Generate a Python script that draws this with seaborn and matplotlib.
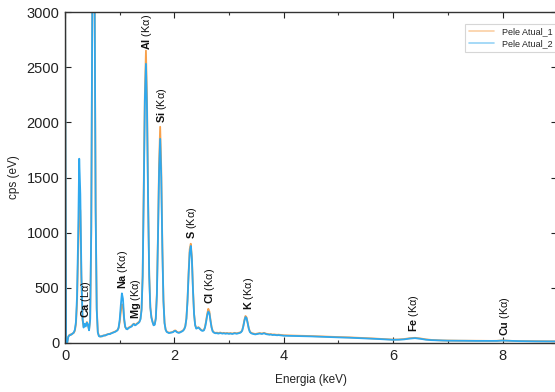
import numpy as np
import pandas as pd
import matplotlib
matplotlib.use("Agg")
import matplotlib.pyplot as plt
import seaborn as sns
from matplotlib.ticker import MultipleLocator

# ---------------- data ----------------
# energy grid (keV): 0.02 keV channels up to 4 keV, 0.1 keV beyond
energy_low = np.round(np.arange(0.0, 4.0, 0.02), 2)
energy_high = np.round(np.arange(4.0, 9.01, 0.1), 2)
energia = np.concatenate([energy_low, energy_high])

pele_atual_1 = [
    3500, 0, 0, 60, 72, 78, 76, 88, 92, 110,
    170, 360, 800, 1250, 1200, 560, 210, 150, 170, 160,
    190, 160, 120, 220, 1000, 3150, 3500, 3350, 1250, 320,
    100, 65, 60, 58, 64, 68, 66, 72, 76, 80,
    80, 84, 88, 92, 97, 100, 105, 112, 118, 135,
    190, 280, 350, 340, 210, 145, 130, 128, 138, 145,
    150, 155, 168, 175, 165, 170, 178, 185, 195, 220,
    310, 620, 1400, 2250, 2650, 2200, 1300, 620, 330, 235,
    195, 165, 170, 225, 450, 980, 1620, 1960, 1580, 880,
    390, 185, 122, 104, 98, 93, 95, 97, 99, 103,
    112, 114, 104, 98, 95, 98, 104, 108, 115, 128,
    155, 225, 390, 640, 850, 900, 780, 490, 265, 165,
    135, 138, 143, 135, 124, 116, 114, 118, 145, 200,
    265, 310, 285, 210, 145, 110, 98, 93, 92, 94,
    90, 92, 95, 91, 89, 92, 90, 88, 91, 89,
    87, 90, 88, 86, 89, 92, 90, 88, 91, 94,
    96, 102, 115, 155, 210, 245, 232, 185, 135, 104,
    94, 89, 86, 84, 82, 84, 86, 88, 90, 88,
    86, 89, 92, 88, 84, 82, 80, 79, 81, 78,
    76, 78, 77, 75, 74, 76, 75, 73, 74, 72,
    70, 68, 67, 66, 65, 63, 61, 59, 57, 56,
    54, 53, 51, 49, 47, 45, 42, 39, 36, 33,
    31, 32, 36, 43, 47, 41, 33, 28, 25, 23,
    22, 22, 21, 21, 20, 20, 20, 19, 19, 20,
    24, 21, 18, 18, 17, 17, 16, 16, 16, 15, 15,
]

pele_atual_2 = [
    3500, 0, 0, 55, 70, 72, 80, 85, 95, 120,
    190, 420, 950, 1670, 1350, 620, 230, 140, 175, 150,
    185, 165, 115, 210, 1050, 3200, 3500, 3300, 1200, 300,
    95, 62, 58, 62, 60, 66, 70, 68, 74, 78,
    82, 80, 86, 90, 95, 98, 102, 108, 115, 140,
    210, 340, 450, 400, 230, 150, 128, 124, 135, 140,
    145, 150, 165, 172, 160, 165, 175, 180, 190, 215,
    300, 600, 1350, 2200, 2530, 2100, 1250, 600, 320, 230,
    190, 160, 165, 220, 430, 950, 1550, 1850, 1500, 850,
    380, 180, 120, 100, 95, 90, 92, 94, 96, 100,
    108, 110, 100, 95, 92, 95, 100, 105, 112, 125,
    150, 220, 380, 620, 820, 880, 760, 480, 260, 160,
    130, 135, 140, 130, 120, 112, 110, 115, 140, 190,
    250, 285, 270, 200, 140, 105, 95, 90, 88, 90,
    85, 88, 90, 87, 85, 88, 86, 84, 87, 85,
    83, 86, 84, 82, 85, 88, 86, 84, 87, 90,
    92, 98, 112, 150, 200, 235, 225, 180, 130, 100,
    90, 85, 82, 80, 78, 80, 82, 84, 86, 84,
    82, 85, 88, 84, 80, 78, 76, 75, 77, 74,
    72, 74, 73, 71, 70, 72, 71, 69, 70, 68,
    66, 65, 64, 63, 62, 60, 58, 56, 54, 53,
    51, 50, 48, 46, 44, 42, 40, 37, 34, 31,
    29, 30, 33, 40, 44, 38, 30, 26, 24, 22,
    21, 21, 20, 20, 19, 19, 19, 18, 18, 19,
    22, 20, 17, 17, 16, 16, 15, 15, 15, 14, 14,
]

series_names = ["Pele Atual_1", "Pele Atual_2"]
series_colors = ["#F7A04B", "#2EA8EE"]

peak_elements = ["Ca", "Na", "Mg", "Al", "Si", "S", "Cl", "K", "Fe", "Cu"]
peak_lines = ["Lα", "Kα", "Kα", "Kα", "Kα", "Kα", "Kα", "Kα", "Kα", "Kα"]
peak_energy = [0.38, 1.06, 1.30, 1.50, 1.77, 2.33, 2.65, 3.37, 6.39, 8.04]
peak_label_y = [226, 490, 217, 2655, 1994, 942, 353, 300, 100, 63]

# ---------------- plot ----------------
sns.set_theme(style="ticks")
plt.rcParams["font.family"] = ["Liberation Sans", "DejaVu Sans"]
plt.rcParams["mathtext.fontset"] = "custom"
plt.rcParams["mathtext.rm"] = "Liberation Sans"
plt.rcParams["mathtext.bf"] = "Liberation Sans:bold"
plt.rcParams["mathtext.it"] = "Liberation Sans:italic"

df = pd.DataFrame({
    "Energia": np.concatenate([energia, energia]),
    "cps": np.concatenate([pele_atual_1, pele_atual_2]),
    "Amostra": [series_names[0]] * len(energia) + [series_names[1]] * len(energia),
})

fig = plt.figure(figsize=(5.55, 3.92), dpi=100)
ax = fig.add_axes([65 / 555, 1 - 343 / 392, 1.0 - 65 / 555 + 0.004, (343 - 12) / 392])

sns.lineplot(data=df, x="Energia", y="cps", hue="Amostra",
             hue_order=series_names, palette=series_colors,
             linewidth=1.3, estimator=None, sort=False, ax=ax)

ax.set_xlim(0, 9.0)
ax.set_ylim(0, 3000)
ax.xaxis.set_major_locator(MultipleLocator(2))
ax.xaxis.set_minor_locator(MultipleLocator(1))
ax.yaxis.set_major_locator(MultipleLocator(500))
ax.tick_params(which="both", direction="in", top=True, right=True,
               width=0.8, color="#333333")
ax.tick_params(which="major", length=4, labelsize=10.5, pad=4, colors="#222222")
ax.tick_params(which="minor", length=2)
for s in ax.spines.values():
    s.set_linewidth(1.0)
    s.set_color("#333333")

ax.set_xlabel("Energia (keV)", fontsize=8.5, color="#222222", labelpad=8)
ax.set_ylabel("cps (eV)", fontsize=8.5, color="#222222", labelpad=5)

for el, ln, xe, ye in zip(peak_elements, peak_lines, peak_energy, peak_label_y):
    ax.text(xe, ye, r"$\mathbf{" + el + "}$" + " (" + ln[0] + ln[1] + ")",
            rotation=90, ha="center", va="bottom", fontsize=7.8, color="#111111")

leg = ax.legend(loc="upper right", fontsize=6.5, frameon=True, fancybox=False,
                handlelength=2.8, borderpad=0.4, labelspacing=0.3,
                bbox_to_anchor=(0.997, 0.965), borderaxespad=0.0)
leg.get_frame().set_edgecolor("#CCCCCC")
leg.get_frame().set_linewidth(0.8)
for h in leg.get_lines():
    h.set_linewidth(1.2)
    h.set_alpha(0.5)

fig.savefig("out.png", dpi=100)
